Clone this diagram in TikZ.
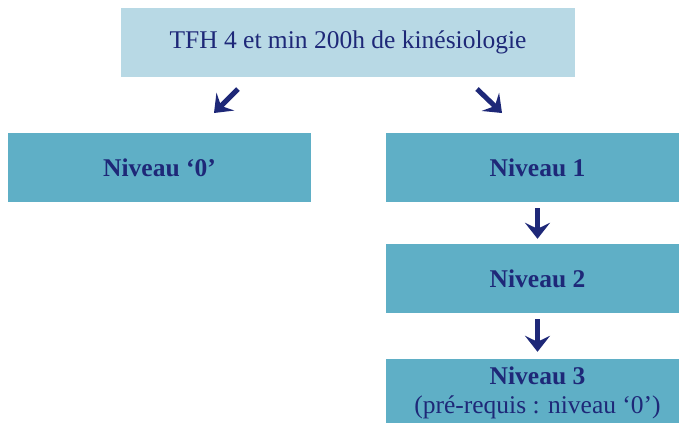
\documentclass[tikz,border=0pt]{standalone}
\usepackage{fontspec}
\setmainfont{Liberation Serif}
\usetikzlibrary{arrows.meta}

\definecolor{clair}{HTML}{B8D9E5}
\definecolor{fonce}{HTML}{5FAFC6}
\definecolor{marine}{HTML}{1E2878}

\begin{document}
\begin{tikzpicture}[x=1bp,y=-1bp,
  boite/.style={rectangle,inner sep=0pt,minimum height=69bp,text=marine,
    font=\fontsize{25.5bp}{28.5bp}\selectfont},
  niveau/.style={boite,fill=fonce,minimum width=303bp,align=center,
    font=\fontsize{25.5bp}{28.5bp}\selectfont\bfseries},
  fleche/.style={marine,line width=5bp,
    -{Stealth[length=16bp,width=25bp,inset=6bp]}}]
  \useasboundingbox (0,0) rectangle (679,422);
  \clip (0,0) rectangle (679,422);

  % top
  \node[boite,fill=clair,minimum width=454bp] (tfh) at (348,42.5) {TFH 4 et min 200h de kin\'esiologie};

  % niveaux
  \node[niveau] (niv0) at (159.5,167.5) {Niveau ‘0’};
  \node[niveau] (niv1) at (537.5,167.5) {Niveau 1};
  \node[niveau] (niv2) at (537.5,278.5) {Niveau 2};
  \node[niveau] (niv3) at (537.5,393) {Niveau 3\\\mdseries (pré-requis : niveau ‘0’)};

  % fleches
  \coordinate (gA) at (238,89);
  \coordinate (gB) at (214,113);
  \coordinate (dA) at (477,89);
  \coordinate (dB) at (502,113);
  \draw[fleche] (gA) -- (gB);
  \draw[fleche] (dA) -- (dB);
  \draw[fleche] ([yshift=-6bp]niv1.south) -- ([yshift=5bp]niv2.north);
  \draw[fleche] ([yshift=-6bp]niv2.south) -- ([yshift=6.5bp]niv3.north);

\end{tikzpicture}
\end{document}
